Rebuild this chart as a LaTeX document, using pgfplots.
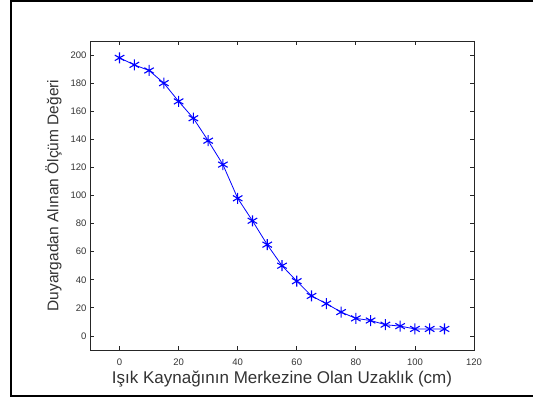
\documentclass[border=0pt]{standalone}
\usepackage{pgfplots}
\pgfplotsset{compat=1.18}
\usepackage{fontspec}
\setmainfont{Liberation Sans}
\begin{document}
\begin{tikzpicture}[x=1pt,y=1pt]
\useasboundingbox (0,0) rectangle (533,398);
\draw[line width=2pt] (600,397) -- (11,397) -- (11,1.5) -- (600,1.5);
\begin{axis}[
  at={(90pt,48pt)}, anchor=south west,
  scale only axis, width=384pt, height=309pt,
  xmin=-10, xmax=120, ymin=-10, ymax=210,
  xtick={0,20,...,120}, ytick={0,20,...,200},
  tick align=inside, tick pos=both,
  major tick length=4pt,
  axis line style={line width=0.9pt, black!85},
  tick style={line width=0.8pt, black!85},
  ticklabel style={font=\fontsize{9.5}{11}\selectfont, text=black!80},
  xticklabel style={yshift=-5pt},
  /pgf/number format/assume math mode=true,
  xlabel={Işık Kaynağının Merkezine Olan Uzaklık (cm)},
  ylabel={Duyargadan Alınan Ölçüm Değeri},
  label style={text=black!80},
  xlabel style={font=\fontsize{17}{18}\selectfont, yshift=1pt},
  ylabel style={font=\fontsize{15.5}{17}\selectfont, yshift=2pt},
]
\addplot[blue, line width=0.8pt, mark=asterisk, mark size=5.5pt, mark options={line width=1.1pt}] coordinates {
(0,198) (5,193) (10,189) (15,180) (20,167) (25,155) (30,139) (35,122)
(40,98) (45,82) (50,65) (55,50) (60,39) (65,28.5) (70,23) (75,17)
(80,12.5) (85,11) (90,8) (95,7) (100,5) (105,5) (110,5)
};
\end{axis}
\end{tikzpicture}
\end{document}
